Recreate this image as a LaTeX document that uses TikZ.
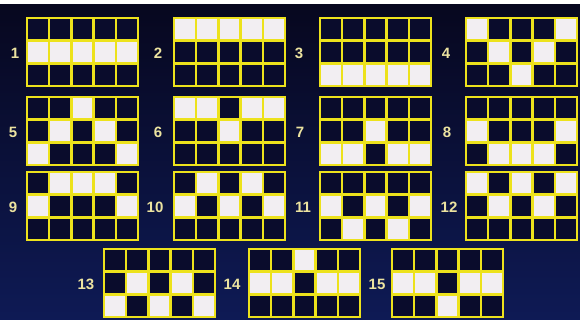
\documentclass[tikz,border=0pt]{standalone}
\usepackage{fontspec}
\setmainfont{Liberation Sans}
\definecolor{bgtop}{HTML}{07071E}
\definecolor{bgbot}{HTML}{0E1A55}
\definecolor{gridyellow}{HTML}{EDE21C}
\definecolor{labelcol}{HTML}{ECE3A0}
\definecolor{cellwhite}{HTML}{F2EEF2}
\definecolor{celldark}{HTML}{0A0C2C}
\tikzset{
  gridline/.style={draw=gridyellow,line width=2.4pt},
  gridbox/.style={draw=gridyellow,line width=2.6pt,minimum width=111pt,minimum height=68pt,inner sep=0pt},
  numlabel/.style={text=labelcol,font=\bfseries\fontsize{15}{15}\selectfont,inner sep=0pt},
}
\newcommand{\payline}[5]{%
  \begin{scope}[shift={(#2,#3)}]
    \fill[celldark] (0,0) rectangle (111,68);
    \foreach \r [count=\c from 0] in {#4}
      \fill[cellwhite] ({\c*22.2},{\r*68/3}) rectangle ++(22.2,68/3);
    \foreach \i in {1,...,4}
      \draw[gridline] ({\i*22.2},0) -- ({\i*22.2},68);
    \foreach \j in {1,2}
      \draw[gridline] (0,{\j*68/3}) -- (111,{\j*68/3});
    \node[gridbox] (grid#1) at (55.5,34) {};
  \end{scope}
  \node[numlabel] (num#1) at (#5,{#3+35}) {#1};
}
\begin{document}
\begin{tikzpicture}[x=1pt,y=-1pt]
\useasboundingbox (0,0) rectangle (580,320);
\shade[top color=bgtop,bottom color=bgbot] (0,0) rectangle (580,320);
\fill[white] (0,0) rectangle (580,4);
\payline{1}{27}{18}{1,1,1,1,1}{15}
\payline{2}{174}{18}{0,0,0,0,0}{158}
\payline{3}{320}{18}{2,2,2,2,2}{299}
\payline{4}{466}{18}{0,1,2,1,0}{446}
\payline{5}{27}{97}{2,1,0,1,2}{13}
\payline{6}{174}{97}{0,0,1,0,0}{158}
\payline{7}{320}{97}{2,2,1,2,2}{300}
\payline{8}{466}{97}{1,2,2,2,1}{447}
\payline{9}{27}{172}{1,0,0,0,1}{13}
\payline{10}{174}{172}{1,0,1,0,1}{155}
\payline{11}{320}{172}{1,2,1,2,1}{303}
\payline{12}{466}{172}{0,1,0,1,0}{449}
\payline{13}{104}{249}{2,1,2,1,2}{86}
\payline{14}{249}{249}{1,1,0,1,1}{232}
\payline{15}{392}{249}{1,1,2,1,1}{377}
\end{tikzpicture}
\end{document}
